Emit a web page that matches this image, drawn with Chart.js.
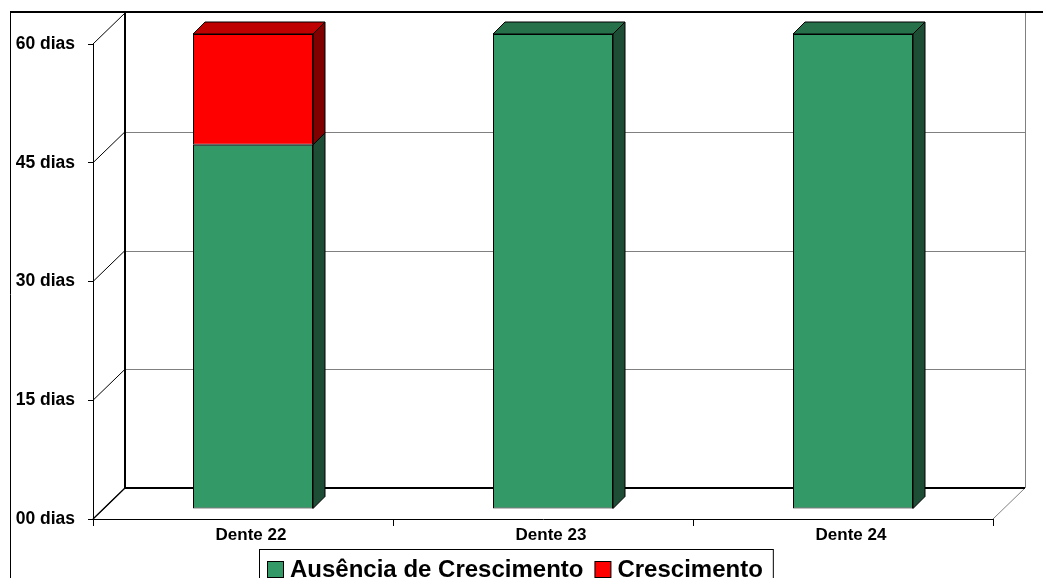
<!DOCTYPE html>
<html><head><meta charset="utf-8">
<script src="https://cdn.jsdelivr.net/npm/chart.js@4/dist/chart.umd.min.js"></script>
<style>html,body{margin:0;padding:0;background:#fff;overflow:hidden}#wrap{width:1043px;height:578px;position:relative}</style>
</head><body><div id="wrap"><canvas id="c" width="1043" height="578"></canvas></div>
<script>
const categories = ['Dente 22', 'Dente 23', 'Dente 24'];
const ausenciaValues = [46, 60, 60];
const crescimentoValues = [14, 0, 0];
const seriesNames = ['Ausência de Crescimento', 'Crescimento'];
const yTickValues = [0, 15, 30, 45, 60];
const yTickLabels = ['00 dias', '15 dias', '30 dias', '45 dias', '60 dias'];

const FONT = "'Liberation Sans', Arial, Helvetica, sans-serif";
const faceColors = [
  { front: '#339966', side: '#1E4D35', top: '#26704A' },
  { front: '#FF0000', side: '#800000', top: '#BF0000' }
];
const WALL_DX = 32, WALL_DY = 31;   // depth of the 3D box
const BAR_OX = 10, BAR_OY = 10;     // front face of bars inside the box
const BAR_D = 12;                   // depth of each bar

function line(ctx, x1, y1, x2, y2) {
  ctx.beginPath(); ctx.moveTo(x1, y1); ctx.lineTo(x2, y2); ctx.stroke();
}

const scene3d = {
  id: 'scene3d',
  beforeDatasetsDraw(chart) {
    const ctx = chart.ctx, ca = chart.chartArea, y = chart.scales.y;
    const L = ca.left, R = ca.right;
    const yMin = y.getPixelForValue(y.min), yMax = y.getPixelForValue(y.max);
    ctx.save();
    // outer chart frame
    ctx.strokeStyle = '#000'; ctx.lineWidth = 1;
    line(ctx, 10.5, 11, 10.5, 578);
    ctx.lineWidth = 2;
    line(ctx, 10, 12, 1043, 12);
    // left side wall diagonals
    ctx.lineWidth = 1; ctx.strokeStyle = '#000';
    yTickValues.forEach(v => {
      const py = y.getPixelForValue(v);
      line(ctx, L, py, L + WALL_DX, py - WALL_DY);
    });
    // back wall gridlines
    ctx.strokeStyle = '#808080';
    yTickValues.filter(v => v > y.min && v < y.max).forEach(v => {
      const py = Math.round(y.getPixelForValue(v) - WALL_DY) + 0.5;
      line(ctx, L + WALL_DX, py, R + WALL_DX, py);
    });
    // back wall right edge + floor right diagonal
    line(ctx, R + WALL_DX + 0.5, yMax - WALL_DY, R + WALL_DX + 0.5, yMin - WALL_DY);
    line(ctx, R, yMin, R + WALL_DX, yMin - WALL_DY);
    // back wall left edge and floor back edge
    ctx.strokeStyle = '#000'; ctx.lineWidth = 2;
    line(ctx, L + WALL_DX, yMax - WALL_DY, L + WALL_DX, yMin - WALL_DY + 1);
    line(ctx, L + WALL_DX, yMin - WALL_DY, R + WALL_DX, yMin - WALL_DY);
    ctx.lineWidth = 1.3;
    line(ctx, L, yMin, L + WALL_DX, yMin - WALL_DY);
    ctx.restore();
    ctx.save();
    ctx.translate(BAR_OX, -BAR_OY);
  },
  afterDatasetsDraw(chart) {
    const ctx = chart.ctx;
    const n = chart.data.labels.length;
    ctx.lineWidth = 1; ctx.strokeStyle = '#000'; ctx.lineJoin = 'miter';
    for (let i = 0; i < n; i++) {
      let topEl = null, topIdx = -1;
      chart.data.datasets.forEach((ds, di) => {
        const el = chart.getDatasetMeta(di).data[i];
        const p = el.getProps(['x', 'y', 'base', 'width']);
        if (Math.abs(p.base - p.y) < 0.5) return;
        const r = p.x + p.width / 2;
        ctx.beginPath();
        ctx.moveTo(r, p.y); ctx.lineTo(r + BAR_D, p.y - BAR_D);
        ctx.lineTo(r + BAR_D, p.base - BAR_D); ctx.lineTo(r, p.base);
        ctx.closePath();
        ctx.fillStyle = faceColors[di].side; ctx.fill(); ctx.stroke();
        if (!topEl || p.y < topEl.y) { topEl = p; topIdx = di; }
      });
      if (topEl) {
        const l = topEl.x - topEl.width / 2, r = topEl.x + topEl.width / 2;
        ctx.beginPath();
        ctx.moveTo(l, topEl.y); ctx.lineTo(l + BAR_D, topEl.y - BAR_D);
        ctx.lineTo(r + BAR_D, topEl.y - BAR_D); ctx.lineTo(r, topEl.y);
        ctx.closePath();
        ctx.fillStyle = faceColors[topIdx].top; ctx.fill(); ctx.stroke();
      }
    }
    ctx.restore();
  },
  afterDraw(chart) {
    const ctx = chart.ctx;
    ctx.save();
    ctx.font = 'bold 24px ' + FONT;
    ctx.textBaseline = 'alphabetic';
    const sw = 16, gap = 7, gap2 = 11;
    const boxL = 259.5, boxT = 549.5;
    let x = 267;
    const widths = chart.data.datasets.map(ds => ctx.measureText(ds.label).width);
    const total = widths.reduce((a, b) => a + b, 0) + chart.data.datasets.length * (sw + gap) + gap2 * (chart.data.datasets.length - 1);
    ctx.fillStyle = '#fff';
    ctx.fillRect(boxL, boxT, total + 18, 40);
    ctx.strokeStyle = '#000'; ctx.lineWidth = 1;
    ctx.strokeRect(boxL, boxT, total + 18, 40);
    chart.data.datasets.forEach((ds, di) => {
      ctx.fillStyle = ds.backgroundColor;
      ctx.fillRect(x + 0.5, 561.5, sw, sw);
      ctx.strokeStyle = '#000';
      ctx.strokeRect(x + 0.5, 561.5, sw, sw);
      x += sw + gap;
      ctx.fillStyle = '#000';
      ctx.fillText(ds.label, x, 577);
      x += widths[di] + gap2;
    });
    ctx.restore();
  }
};

new Chart(document.getElementById('c'), {
  type: 'bar',
  data: {
    labels: categories,
    datasets: [
      { label: seriesNames[0], data: ausenciaValues, backgroundColor: faceColors[0].front },
      { label: seriesNames[1], data: crescimentoValues, backgroundColor: faceColors[1].front }
    ]
  },
  options: {
    responsive: false,
    devicePixelRatio: 1,
    animation: false,
    layout: { padding: { left: 0, top: 44, right: 50, bottom: 0 } },
    datasets: {
      bar: {
        clip: false, borderWidth: 1, borderColor: '#000', borderSkipped: false,
        categoryPercentage: 0.8, barPercentage: 0.5
      }
    },
    plugins: { legend: { display: false }, tooltip: { enabled: false } },
    scales: {
      x: {
        stacked: true,
        grid: { offset: true, drawOnChartArea: false, drawTicks: true, tickLength: 7, color: '#000' },
        border: { display: true, color: '#000', width: 1 },
        ticks: { color: '#000', font: { family: FONT, size: 17, weight: 'bold' }, padding: -1, maxRotation: 0, labelOffset: 8 },
        afterFit: s => { s.height = 59; }
      },
      y: {
        stacked: true, min: 0, max: 60,
        grid: { drawOnChartArea: false, drawTicks: true, tickLength: 5, color: '#000' },
        border: { display: true, color: '#000', width: 1 },
        afterBuildTicks: s => { s.ticks = yTickValues.map(v => ({ value: v })); },
        ticks: {
          color: '#000', font: { family: FONT, size: 17.5, weight: 'bold' }, padding: 13,
          callback: v => yTickLabels[yTickValues.indexOf(v)]
        },
        afterFit: s => { s.width = 93; }
      }
    }
  },
  plugins: [scene3d]
});
</script></body></html>
